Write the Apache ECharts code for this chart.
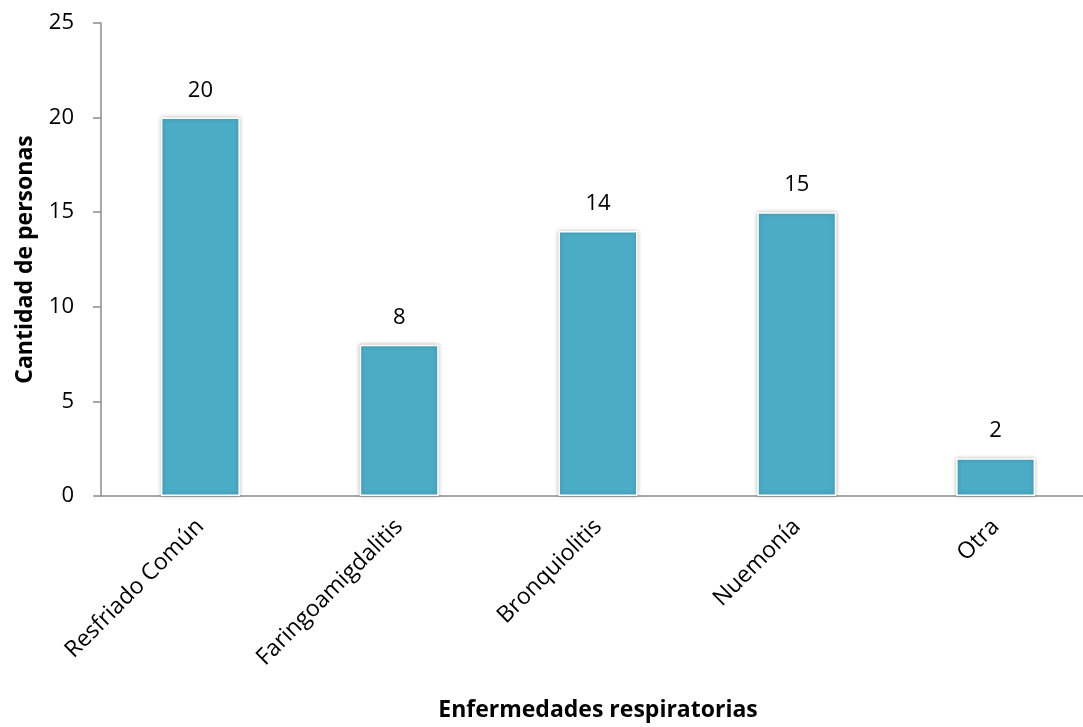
<!DOCTYPE html>
<html>
<head>
<meta charset="utf-8">
<script src="https://cdn.jsdelivr.net/npm/echarts@6/dist/echarts.min.js"></script>
<style>html,body{margin:0;padding:0;background:#fff;overflow:hidden}#c{width:1083px;height:727px}</style>
</head>
<body>
<div id="c"></div>
<script>
const categories = ['Resfriado Común', 'Faringoamigdalitis', 'Bronquiolitis', 'Nuemonía', 'Otra'];
const values = [20, 8, 14, 15, 2];
const yTicks = { min: 0, max: 25, interval: 5 };
const xTitle = 'Enfermedades respiratorias';
const yTitle = 'Cantidad de personas';

const FONT = '"Open Sans", "Liberation Sans", sans-serif';
const chart = echarts.init(document.getElementById('c'), null, { renderer: 'canvas' });
chart.setOption({
  animation: false,
  backgroundColor: '#ffffff',
  grid: { left: 101, width: 994, top: 23, bottom: 231, containLabel: false, outerBoundsMode: 'none' },
  xAxis: {
    type: 'category',
    data: categories,
    name: xTitle,
    nameLocation: 'middle',
    nameGap: 203,
    nameTextStyle: { fontFamily: FONT, fontSize: 23, fontWeight: 'bold', color: '#000' },
    axisLine: { lineStyle: { color: '#8c8c8c', width: 1.5 } },
    axisTick: { show: false },
    axisLabel: { rotate: 45, margin: 27, fontFamily: FONT, fontSize: 23, color: '#000' }
  },
  yAxis: {
    type: 'value',
    min: yTicks.min, max: yTicks.max, interval: yTicks.interval,
    name: yTitle,
    nameLocation: 'middle',
    nameGap: 64,
    nameTextStyle: { fontFamily: FONT, fontSize: 23, fontWeight: 'bold', color: '#000' },
    axisLine: { show: true, lineStyle: { color: '#8c8c8c', width: 1.5 } },
    axisTick: { show: true, length: 8, lineStyle: { color: '#8c8c8c', width: 1.5 } },
    splitLine: { show: false },
    axisLabel: { margin: 27, fontFamily: FONT, fontSize: 22, color: '#000' }
  },
  series: [{
    type: 'bar',
    data: values,
    barWidth: 79,
    itemStyle: {
      color: '#4BACC6',
      borderColor: '#ffffff',
      borderWidth: 1.5,
      shadowBlur: 4,
      shadowColor: 'rgba(0,0,0,0.25)'
    },
    label: { show: true, position: 'top', distance: 16, fontFamily: FONT, fontSize: 22, color: '#000' }
  }]
});
</script>
</body>
</html>
